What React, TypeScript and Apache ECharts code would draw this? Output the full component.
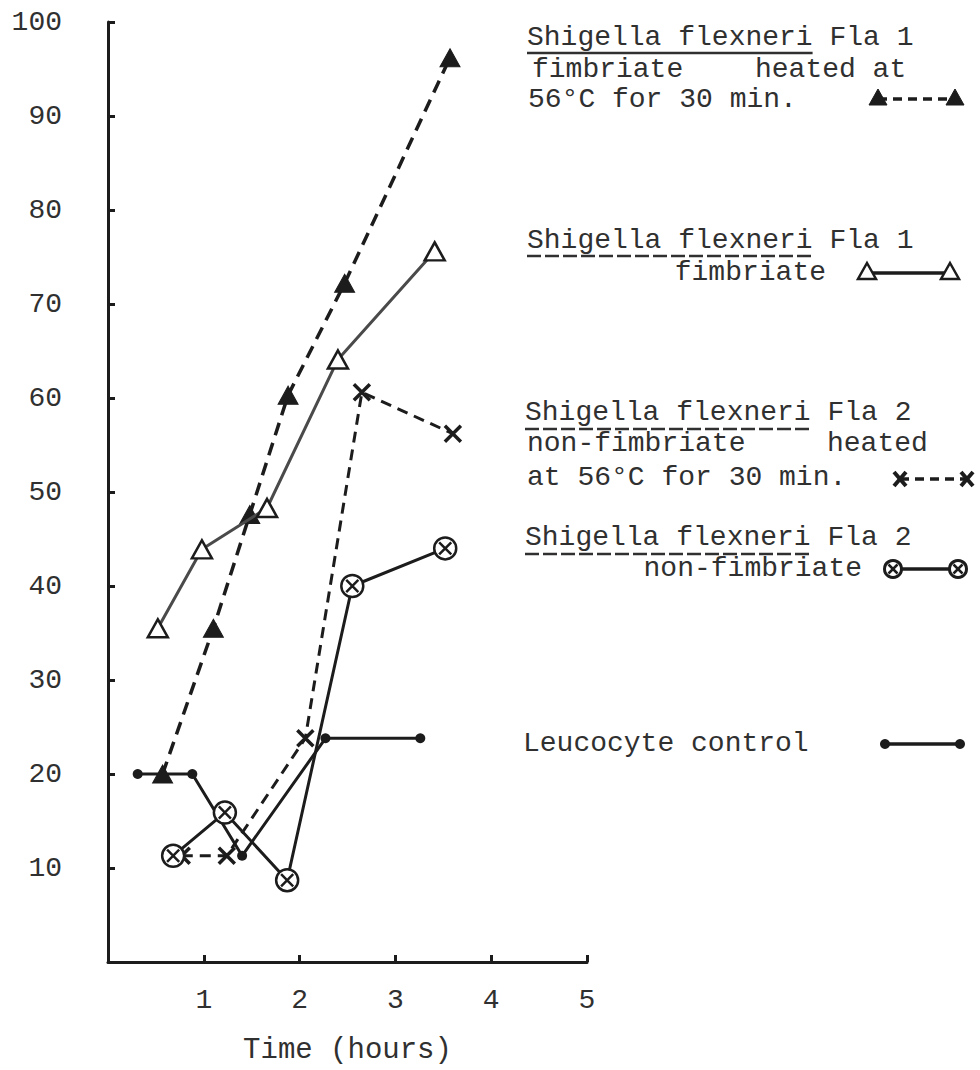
import React, { useEffect, useRef } from "react";
import * as echarts from "echarts";

// ---- data ----
const xTicks = [0, 1, 2, 3, 4, 5];
const yTicks = [0, 10, 20, 30, 40, 50, 60, 70, 80, 90, 100];

// Shigella flexneri Fla 1 fimbriate heated at 56°C (filled triangle, dashed)
const fla1HeatedX = [0.57, 1.1, 1.48, 1.88, 2.47, 3.57];
const fla1HeatedY = [20, 35.5, 47.6, 60.3, 72.2, 96.2];

// Shigella flexneri Fla 1 fimbriate (open triangle, solid)
const fla1X = [0.52, 0.98, 1.66, 2.4, 3.41];
const fla1Y = [35.5, 43.9, 48.3, 64.1, 75.6];

// Shigella flexneri Fla 2 non-fimbriate heated (x, dashed)
const fla2HeatedX = [0.77, 1.24, 2.06, 2.65, 3.6];
const fla2HeatedY = [11.3, 11.3, 23.8, 60.6, 56.2];

// Shigella flexneri Fla 2 non-fimbriate (circled x, solid)
const fla2X = [0.68, 1.22, 1.87, 2.55, 3.52];
const fla2Y = [11.3, 15.9, 8.7, 40.0, 44.0];

// Leucocyte control (dot, solid)
const ctrlX = [0.31, 0.88, 1.4, 2.27, 3.26];
const ctrlY = [20, 20, 11.3, 23.8, 23.8];

const FONT = '"Liberation Mono", "DejaVu Sans Mono", monospace';
const FS = 28;
const INK = "#1c1c1c";
const TXT = "#303030";
const SPECIES_W = 17 * FS * 0.6; // width of "Shigella flexneri"

const pairs = (xs: number[], ys: number[]) => xs.map((x, i) => [x, ys[i]]);

const CROSS = "path://M0,0L10,10M10,0L0,10";
const CIRCLE_X =
  "path://M20,10A10,10,0,1,1,0,10A10,10,0,1,1,20,10ZM4.5,4.5L15.5,15.5M15.5,4.5L4.5,15.5";

function txt(text: string, x: number, y: number, align = "left") {
  return {
    type: "text",
    x,
    y,
    silent: true,
    style: {
      text,
      font: `${FS}px ${FONT}`,
      fill: TXT,
      align,
      textAlign: align,
      verticalAlign: "middle",
      textVerticalAlign: "middle",
    },
  };
}

function uline(x1: number, y: number, dashed: boolean) {
  return {
    type: "line",
    silent: true,
    shape: { x1, y1: y, x2: x1 + SPECIES_W, y2: y },
    style: { stroke: TXT, lineWidth: 2.5, lineDash: dashed ? [14, 4] : null },
  };
}

function tri(x: number, y: number, filled: boolean) {
  return {
    type: "polygon",
    silent: true,
    shape: { points: [[x, y - 9], [x + 9, y + 7], [x - 9, y + 7]] },
    style: { fill: filled ? INK : "#fff", stroke: INK, lineWidth: filled ? 1 : 2.5 },
    z: 10,
  };
}

function cross(x: number, y: number) {
  return [
    { type: "line", silent: true, shape: { x1: x - 6, y1: y - 7, x2: x + 6, y2: y + 7 }, style: { stroke: INK, lineWidth: 4 }, z: 10 },
    { type: "line", silent: true, shape: { x1: x + 6, y1: y - 7, x2: x - 6, y2: y + 7 }, style: { stroke: INK, lineWidth: 4 }, z: 10 },
  ];
}

function circX(x: number, y: number) {
  return [
    { type: "circle", silent: true, shape: { cx: x, cy: y, r: 8.5 }, style: { fill: "#fff", stroke: INK, lineWidth: 3 }, z: 10 },
    { type: "line", silent: true, shape: { x1: x - 4.5, y1: y - 4.5, x2: x + 4.5, y2: y + 4.5 }, style: { stroke: INK, lineWidth: 2.5 }, z: 11 },
    { type: "line", silent: true, shape: { x1: x + 4.5, y1: y - 4.5, x2: x - 4.5, y2: y + 4.5 }, style: { stroke: INK, lineWidth: 2.5 }, z: 11 },
  ];
}

function seg(x1: number, x2: number, y: number, dashed: boolean) {
  return {
    type: "line",
    silent: true,
    shape: { x1, y1: y, x2, y2: y },
    style: { stroke: INK, lineWidth: 3.5, lineDash: dashed ? [9, 6] : null },
  };
}

export default function App() {
  const ref = useRef<HTMLDivElement>(null);

  useEffect(() => {
    if (!ref.current) return;
    const chart = echarts.init(ref.current, null, { renderer: "svg" });

    const axisLabelFmt = (v: number) => (v === 0 ? "" : String(v));

    const graphic: any[] = [
      // block 1
      txt("Shigella flexneri Fla 1", 527, 37),
      uline(527, 53, false),
      txt("fimbriate", 532, 69),
      txt("heated at", 755, 69),
      txt("56°C for 30 min.", 528, 99),
      seg(878, 955, 99, true),
      tri(878, 98, true),
      tri(955, 98, true),
      // block 2
      txt("Shigella flexneri Fla 1", 527, 240),
      uline(527, 256, true),
      txt("fimbriate", 826, 272, "right"),
      seg(867, 950, 273, false),
      tri(867, 272, false),
      tri(950, 272, false),
      // block 3
      txt("Shigella flexneri Fla 2", 525, 412),
      uline(525, 429, true),
      txt("non-fimbriate", 527, 443),
      txt("heated", 827, 443),
      txt("at 56°C for 30 min.", 527, 477),
      seg(900, 967, 479, true),
      ...cross(900, 479),
      ...cross(967, 479),
      // block 4
      txt("Shigella flexneri Fla 2", 525, 537),
      uline(525, 554, true),
      txt("non-fimbriate", 862, 568, "right"),
      seg(893, 958, 569, false),
      ...circX(893, 569),
      ...circX(958, 569),
      // control
      txt("Leucocyte control", 523, 743),
      seg(885, 960, 744, false),
      { type: "circle", silent: true, shape: { cx: 885, cy: 744, r: 5 }, style: { fill: INK }, z: 10 },
      { type: "circle", silent: true, shape: { cx: 960, cy: 744, r: 5 }, style: { fill: INK }, z: 10 },
    ];

    const option: any = {
      animation: false,
      backgroundColor: "#fff",
      grid: { left: 108, top: 22, width: 479, height: 947, containLabel: false },
      xAxis: {
        type: "value",
        min: xTicks[0],
        max: xTicks[xTicks.length - 1],
        interval: 1,
        axisLine: { show: true, onZero: false, lineStyle: { color: INK, width: 3 } },
        axisTick: { show: true, inside: true, length: 7, lineStyle: { color: INK, width: 3 } },
        axisLabel: { formatter: axisLabelFmt, color: TXT, fontFamily: FONT, fontSize: 28, margin: 24 },
        splitLine: { show: false },
        name: "Time (hours)",
        nameLocation: "middle",
        nameGap: 74,
        nameTextStyle: { color: TXT, fontFamily: FONT, fontSize: 29 },
      },
      yAxis: {
        type: "value",
        min: yTicks[0],
        max: yTicks[yTicks.length - 1],
        interval: 10,
        axisLine: { show: true, onZero: false, lineStyle: { color: INK, width: 3 } },
        axisTick: { show: true, inside: true, length: 7, lineStyle: { color: INK, width: 3 } },
        axisLabel: { formatter: axisLabelFmt, color: TXT, fontFamily: FONT, fontSize: 28, margin: 46 },
        splitLine: { show: false },
      },
      series: [
        {
          name: "Fla 1 fimbriate heated",
          type: "line",
          data: pairs(fla1HeatedX, fla1HeatedY),
          symbol: "triangle",
          symbolSize: [20, 18],
          lineStyle: { color: INK, width: 3.5, type: [13, 8] },
          itemStyle: { color: INK, borderColor: INK, borderWidth: 1 },
          z: 3,
        },
        {
          name: "Fla 1 fimbriate",
          type: "line",
          data: pairs(fla1X, fla1Y),
          symbol: "triangle",
          symbolSize: [20, 18],
          lineStyle: { color: "#4a4a4a", width: 3 },
          itemStyle: { color: "#fff", borderColor: INK, borderWidth: 2.5 },
          z: 4,
        },
        {
          name: "Fla 2 non-fimbriate heated",
          type: "line",
          data: pairs(fla2HeatedX, fla2HeatedY),
          symbol: CROSS,
          symbolSize: 16,
          lineStyle: { color: INK, width: 3, type: [11, 7] },
          itemStyle: { color: "none", borderColor: INK, borderWidth: 3.5 },
          z: 3,
        },
        {
          name: "Fla 2 non-fimbriate",
          type: "line",
          data: pairs(fla2X, fla2Y),
          symbol: CIRCLE_X,
          symbolSize: 22,
          lineStyle: { color: INK, width: 3 },
          itemStyle: { color: "#fff", borderColor: INK, borderWidth: 2.5 },
          z: 5,
        },
        {
          name: "Leucocyte control",
          type: "line",
          data: pairs(ctrlX, ctrlY),
          symbol: "circle",
          symbolSize: 10,
          lineStyle: { color: INK, width: 3 },
          itemStyle: { color: INK },
          z: 2,
        },
      ],
      graphic,
    };

    chart.setOption(option);
    return () => chart.dispose();
  }, []);

  return (
    <div
      ref={ref}
      style={{ position: "absolute", left: 0, top: 0, width: 980, height: 1070, background: "#fff" }}
    />
  );
}
